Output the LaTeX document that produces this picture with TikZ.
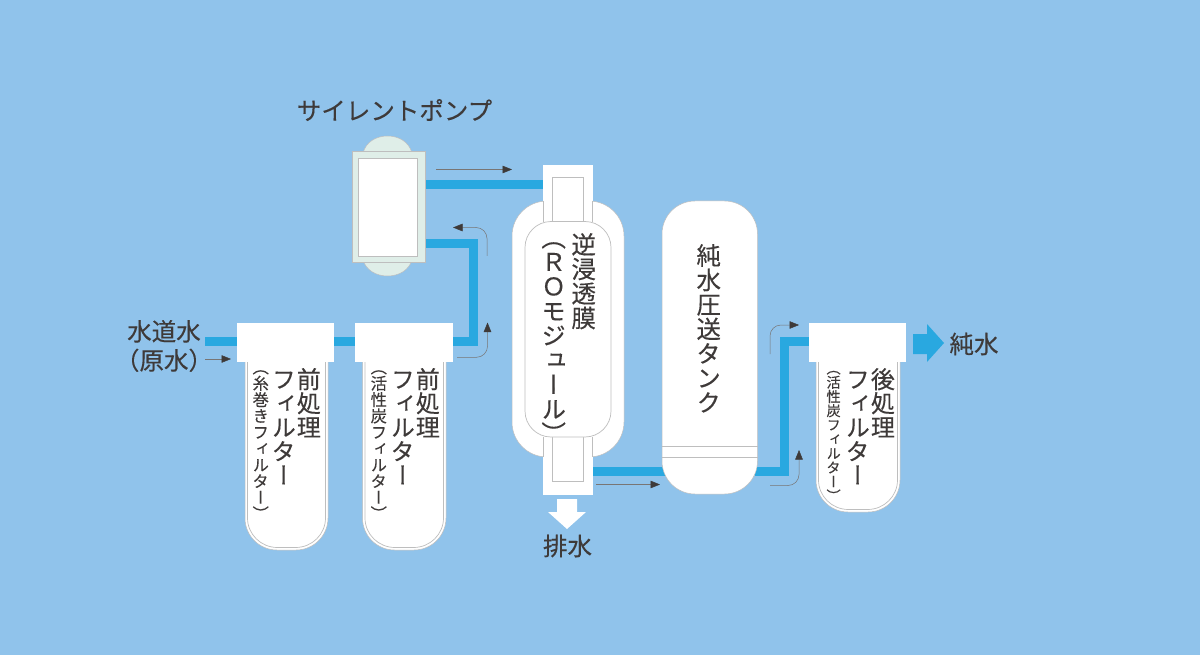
\documentclass[tikz,border=0pt]{standalone}
\usepackage{fontspec}
\usepackage{graphicx}
\setmainfont[FakeBold=0.25]{Noto Sans CJK JP}
\newfontfamily\vjp[FakeBold=0.25,RawFeature={vertical;+vert;+vrt2}]{Noto Sans CJK JP}
\usetikzlibrary{arrows.meta}
\definecolor{bg}{RGB}{144,195,235}
\definecolor{pipe}{RGB}{41,168,224}
\definecolor{ink}{RGB}{62,58,57}
\definecolor{edge}{RGB}{190,190,190}
\definecolor{pumpc}{RGB}{223,238,232}
\newcommand{\vt}[2]{\rotatebox{-90}{\fontsize{#1}{#1}\vjp #2}}
\tikzset{
 pipeline/.style={draw=pipe,line width=9pt,miter limit=10},
 capbox/.style={draw=none,fill=white,minimum width=97.5pt,minimum height=39pt,inner sep=0pt,outer sep=0pt},
 bodyout/.style={fill=white,draw=edge,line width=.5pt},
 fineline/.style={draw=edge,line width=.7pt},
 flowarrow/.style={draw=ink!70,line width=.5pt,rounded corners=11pt,-{Triangle[length=9.5pt,width=7.5pt,color=ink]}},
 lbl/.style={text=ink,font=\fontsize{24.5}{29}\selectfont,inner sep=0pt,align=center},
 vlbl/.style={text=ink,inner sep=0pt,anchor=north},
}
\begin{document}
\begin{tikzpicture}[x=1pt,y=-1pt]
\useasboundingbox (0,0) rectangle (1200,655);
\fill[bg] (0,0) rectangle (1200,655);
% named caps
\path
 (285.5,342.5) node[capbox] (capA) {}
 (404,342.5) node[capbox] (capB) {}
 (857.5,342.5) node[capbox] (capC) {};
\coordinate (inlet) at (205,341.5);
\coordinate (pumpIn) at (425,244);
\coordinate (pumpOut) at (425,184.5);
\coordinate (roIn) at (544,184.5);
\coordinate (roOut) at (592,471);
\coordinate (tankIn) at (665,471);
\coordinate (tankOut) at (755,471);
\coordinate (capCin) at (809,341.5);
% pipes
\draw[pipeline] (inlet) -- (capA.west |- inlet);
\draw[pipeline] (capA.east |- inlet) -- (capB.west |- inlet);
\draw[pipeline] (capB.east |- inlet) -- (473.5,341.5) -- (473.5,244) -- (pumpIn);
\draw[pipeline] (pumpOut) -- (roIn);
\draw[pipeline] (roOut) -- (tankIn);
\draw[pipeline] (tankOut) -- (784,471) -- (784,341.5) -- (capCin);
% filter bodies
\foreach \l/\r/\b in {245/328/550,362.5/446/550,816/900/512}{
 \draw[bodyout] (\l,350) -- (\l,\b-32) arc[start angle=180,end angle=90,x radius=32,y radius=32] -- (\r-32,\b) arc[start angle=90,end angle=0,x radius=32,y radius=32] -- (\r,350);
 \draw[fineline] (\l+2.5,350) -- (\l+2.5,\b-32) arc[start angle=180,end angle=90,x radius=30,y radius=29.5] -- (\r-32.5,\b-2.5) arc[start angle=90,end angle=0,x radius=30,y radius=29.5] -- (\r-2.5,350);
}
\node[capbox] at (capA) {};
\node[capbox] at (capB) {};
\node[capbox] at (capC) {};
% pump
\draw[fill=pumpc,draw=edge,line width=.5pt] (363,153) .. controls (366,142) and (376,136) .. (387.5,136) .. controls (399,136) and (409,142) .. (412,153) -- cycle;
\draw[fill=pumpc,draw=edge,line width=.5pt] (363,260) .. controls (366,270) and (376,276) .. (387.5,276) .. controls (399,276) and (409,270) .. (412,260) -- cycle;
\node[draw=edge,fill=pumpc,line width=.5pt,minimum width=73pt,minimum height=111pt,inner sep=0pt] (pump) at (388.5,206.5) {};
\node[draw=edge,fill=white,line width=.5pt,minimum width=59pt,minimum height=97.5pt,inner sep=0pt] (pumpInner) at (387.5,207.5) {};
% RO module
\draw[bodyout,rounded corners=35pt] (512,201) rectangle (624,457);
\draw[bodyout,draw=white] (543.5,165) rectangle (592,222);
\draw[bodyout,draw=white] (543.5,437) rectangle (592,494);
\draw[fineline] (543.5,201) -- (543.5,222) (592,201) -- (592,222);
\draw[fineline] (543.5,437) -- (543.5,457) (592,437) -- (592,457);
\draw[fineline] (552,222) -- (552,177) -- (583,177) -- (583,222);
\draw[fineline] (552,437) -- (552,481.5) -- (583,481.5) -- (583,437);
\draw[fineline,fill=white,rounded corners=26pt] (525,221.5) rectangle (611,437);
% tank
\draw[bodyout,rounded corners=33pt] (662,201) rectangle (757.5,494);
\draw[fineline] (661.5,446) -- (757.5,446);
\draw[fineline] (661.5,457) -- (757.5,457);
% big arrows
\fill[white] (557,499) -- (577,499) -- (577,512) -- (586,512) -- (567,529) -- (548,512) -- (557,512) -- cycle;
\fill[pipe] (913,334) -- (927,334) -- (927,324) -- (944,343) -- (927,362) -- (927,354) -- (913,354) -- cycle;
% flow arrows
\coordinate (fa1) at (205,359); \coordinate (fa1e) at (231,359);
\draw[flowarrow] (fa1) -- (fa1e);
\coordinate (fa2) at (436,169.5); \coordinate (fa2e) at (512,169.5);
\draw[flowarrow] (fa2) -- (fa2e);
\coordinate (fa3) at (487,256); \coordinate (fa3e) at (453,227.5);
\draw[flowarrow] (fa3) -- (487,227.5) -- (fa3e);
\coordinate (fa4) at (457,357.3); \coordinate (fa4e) at (487.5,322.5);
\draw[flowarrow] (fa4) -- (487.5,357.3) -- (fa4e);
\coordinate (fa5) at (596,484.5); \coordinate (fa5e) at (660,484.5);
\draw[flowarrow] (fa5) -- (fa5e);
\coordinate (fa6) at (770,485.5); \coordinate (fa6e) at (799,450);
\draw[flowarrow] (fa6) -- (799,485.5) -- (fa6e);
\coordinate (fa7) at (770,354); \coordinate (fa7e) at (799,325);
\draw[flowarrow] (fa7) -- (770,325) -- (fa7e);
% labels
\node[lbl] (l1) at (164,346) {水道水\\（原水）};
\node[lbl] (l2) at (394.5,110) {サイレントポンプ};
\node[lbl] (l3) at (567.5,546) {排水};
\node[lbl] (l4) at (974,344) {純水};
\node[vlbl] (v1) at (318,367) {\vt{24}{前処理}};
\node[vlbl] (v2) at (293,367) {\vt{24}{フィルター}};
\node[vlbl] (v3) at (267,358.7) {\vt{16.3}{（糸巻きフィルター）}};
\node[vlbl] (v4) at (437,367) {\vt{24}{前処理}};
\node[vlbl] (v5) at (412,367) {\vt{24}{フィルター}};
\node[vlbl] (v6) at (385,358.7) {\vt{16.3}{（活性炭フィルター）}};
\node[vlbl] (v7) at (892,367) {\vt{24}{後処理}};
\node[vlbl] (v8) at (867,367) {\vt{24}{フィルター}};
\node[vlbl] (v9) at (839,360.8) {\vt{14.2}{（活性炭フィルター）}};
\node[vlbl] (v10) at (593,232) {\vt{24.5}{逆浸透膜}};
\node[vlbl] (v11) at (563,225) {\vt{24.5}{（ＲＯモジュール）}};
\node[vlbl] (v12) at (718,243) {\vt{24.5}{純水圧送タンク}};
\end{tikzpicture}
\end{document}
